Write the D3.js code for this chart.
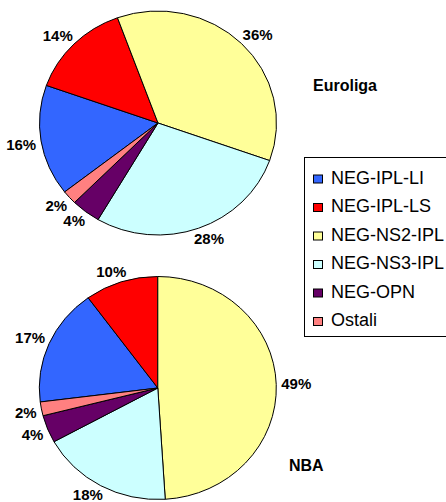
<!DOCTYPE html>
<html>
<head>
<meta charset="utf-8">
<script src="https://cdn.jsdelivr.net/npm/d3@7"></script>
<style>
  body { margin: 0; background: #fff; }
  svg { display: block; font-family: "Liberation Sans", Arial, sans-serif; }
</style>
</head>
<body>
<svg width="446" height="502"></svg>
<script>
// categories in legend order
let categories = ["NEG-IPL-LI", "NEG-IPL-LS", "NEG-NS2-IPL", "NEG-NS3-IPL", "NEG-OPN", "Ostali"];
let colors = ["#3366FF", "#FF0000", "#FFFF99", "#CCFFFF", "#660066", "#FF8080"];

// percentages
let euroliga = [16, 14, 36, 28, 4, 2];
let nba = [17, 10, 49, 18, 4, 2];

let svg = d3.select("svg");

let pies = [
    { name: "Euroliga", values: euroliga, cx: 158, cy: 123, rx: 118.5, ry: 112, start: -128, tx: 313, ty: 91 },
    { name: "NBA", values: nba, cx: 157.8, cy: 388, rx: 118.5, ry: 111.5, start: -97.2, tx: 289, ty: 471 }
];

function sp(v) { return Math.sign(v) * Math.sqrt(Math.abs(v)); }

pies.forEach(p => {
    let pie = d3.pie().sort(null)
        .startAngle(p.start * Math.PI / 180)
        .endAngle((p.start + 360) * Math.PI / 180);
    let arcs = pie(p.values);
    let arc = d3.arc().innerRadius(0).outerRadius(p.rx);

    let g = svg.append("g")
        .attr("transform", `translate(${p.cx},${p.cy}) scale(1,${p.ry / p.rx})`);

    g.selectAll("path")
        .data(arcs)
        .enter().append("path")
        .attr("d", arc)
        .attr("fill", (d, i) => colors[i])
        .attr("stroke", "#000")
        .attr("stroke-width", 1)
        .attr("vector-effect", "non-scaling-stroke");

    // percentage labels just outside the pie edge
    let labels = svg.append("g").selectAll("text")
        .data(arcs)
        .enter().append("text")
        .attr("text-anchor", "middle")
        .style("font-size", "15px")
        .style("font-weight", "bold")
        .text(d => d.data + "%");

    labels.each(function (d) {
        let a = (d.startAngle + d.endAngle) / 2;
        let s = Math.sin(a), c = Math.cos(a);
        let hw = this.getComputedTextLength() / 2, hh = 6;
        let x = p.cx + (p.rx + 5) * s + hw * sp(s);
        let y = p.cy - (p.ry + 5) * c - hh * sp(c);
        d3.select(this).attr("x", x).attr("y", Math.min(y + 5.4, 500));
    });

    svg.append("text")
        .attr("x", p.tx)
        .attr("y", p.ty)
        .style("font-size", "16px")
        .style("font-weight", "bold")
        .text(p.name);
});

// legend
let legend = svg.append("g");
legend.append("rect")
    .attr("x", 304.5).attr("y", 157.5)
    .attr("width", 160).attr("height", 179)
    .attr("fill", "#fff").attr("stroke", "#000");

let item = legend.selectAll(".item")
    .data(categories)
    .enter().append("g")
    .attr("class", "item")
    .attr("transform", (d, i) => `translate(0,${183.5 + 28.5 * i})`);

item.append("rect")
    .attr("x", 313.5).attr("y", -8.5)
    .attr("width", 9).attr("height", 8)
    .attr("fill", (d, i) => colors[i])
    .attr("stroke", "#000");

item.append("text")
    .attr("x", 331)
    .attr("y", 0)
    .style("font-size", "18px")
    .text(d => d);
</script>
</body>
</html>
